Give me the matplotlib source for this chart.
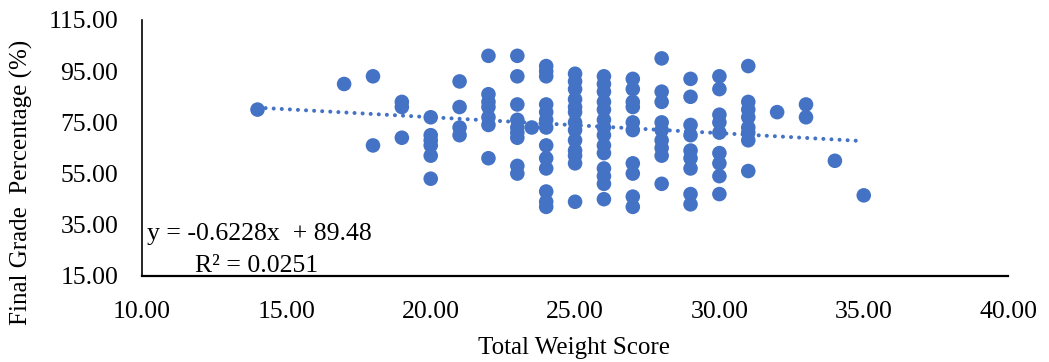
import matplotlib.pyplot as plt
import numpy as np

plt.rcParams['font.family'] = ['Liberation Serif', 'DejaVu Serif']

# data (total weight score -> final grade %)
x_14 = [14]
y_14 = [80]
x_17 = [17]
y_17 = [90]
x_18 = [18, 18]
y_18 = [93, 66]
x_19 = [19, 19, 19]
y_19 = [83, 81, 69]
x_20 = [20] * 6
y_20 = [77, 70, 68, 66, 62, 53]
x_21 = [21] * 4
y_21 = [91, 81, 73, 70]
x_22 = [22] * 7
y_22 = [101, 86, 83, 81, 77, 74, 61]
x_23 = [23] * 9 + [23.5]
y_23 = [101, 93, 82, 76, 73, 71, 69, 58, 55, 73]
x_24 = [24] * 13
y_24 = [97, 95, 93, 82, 79, 76, 73, 66, 61, 57, 48, 44, 42]
x_25 = [25] * 13
y_25 = [94, 91, 88, 84, 81, 79, 75, 72, 68, 64, 62, 59, 44]
x_26 = [26] * 14
y_26 = [93, 90, 87, 83, 80, 76, 73, 70, 66, 63, 57, 54, 51, 45]
x_27 = [27] * 10
y_27 = [92, 88, 83, 81, 75, 72, 59, 55, 46, 42]
x_28 = [28] * 9
y_28 = [100, 87, 83, 75, 72, 68, 65, 62, 51]
x_29 = [29] * 9
y_29 = [92, 85, 74, 70, 64, 61, 57, 47, 43]
x_30 = [30] * 9
y_30 = [93, 88, 78, 75, 71, 63, 59, 54, 47]
x_31 = [31] * 8
y_31 = [97, 83, 80, 77, 73, 71, 68, 56]
x_32 = [32]
y_32 = [79]
x_33 = [33, 33]
y_33 = [82, 77]
x_34 = [34]
y_34 = [60]
x_35 = [35]
y_35 = [46.5]

xs = np.array(x_14 + x_17 + x_18 + x_19 + x_20 + x_21 + x_22 + x_23 + x_24 + x_25
              + x_26 + x_27 + x_28 + x_29 + x_30 + x_31 + x_32 + x_33 + x_34 + x_35)
ys = np.array(y_14 + y_17 + y_18 + y_19 + y_20 + y_21 + y_22 + y_23 + y_24 + y_25
              + y_26 + y_27 + y_28 + y_29 + y_30 + y_31 + y_32 + y_33 + y_34 + y_35)

# trendline as printed on the chart
slope = -0.6228
intercept = 89.48
r2 = 0.0251

blue = '#4472C4'

fig = plt.figure(figsize=(10.49, 3.62), dpi=100)
ax = fig.add_axes([0.1354, 0.2376, 0.8256, 0.7072])

ax.scatter(xs, ys, s=110, color=blue, edgecolors='none', zorder=3)

xt = np.array([xs.min(), xs.max()])
ax.plot(xt, slope * xt + intercept, color=blue, lw=2.9,
        linestyle=(0, (0.01, 2.0)), dash_capstyle='round', zorder=2)

ax.set_xlim(10, 40)
ax.set_ylim(15, 115)
ax.set_xticks(np.arange(10, 41, 5))
ax.set_yticks(np.arange(15, 116, 20))
ax.set_xticklabels(['%.2f' % v for v in np.arange(10, 41, 5)])
ax.set_yticklabels(['%.2f' % v for v in np.arange(15, 116, 20)])
ax.tick_params(axis='both', length=0, labelsize=18.5)
ax.tick_params(axis='y', pad=17)
ax.tick_params(axis='x', pad=18)

for s in ['top', 'right']:
    ax.spines[s].set_visible(False)
ax.spines['left'].set_linewidth(1.2)
ax.spines['bottom'].set_linewidth(1.6)

ax.set_xlabel('Total Weight Score', fontsize=18)
ax.set_ylabel('Final Grade  Percentage (%)', fontsize=18)
ax.yaxis.set_label_coords(-0.126, 0.367)
ax.xaxis.set_label_coords(0.499, -0.238)

ax.text(0.0054, 0.141, 'y = %.4fx  + %.2f' % (slope, intercept),
        transform=ax.transAxes, fontsize=18.5, va='baseline', ha='left')
ax.text(0.061, 0.017, 'R² = %.4f' % r2,
        transform=ax.transAxes, fontsize=18.5, va='baseline', ha='left')

plt.savefig('out.png', dpi=100)
